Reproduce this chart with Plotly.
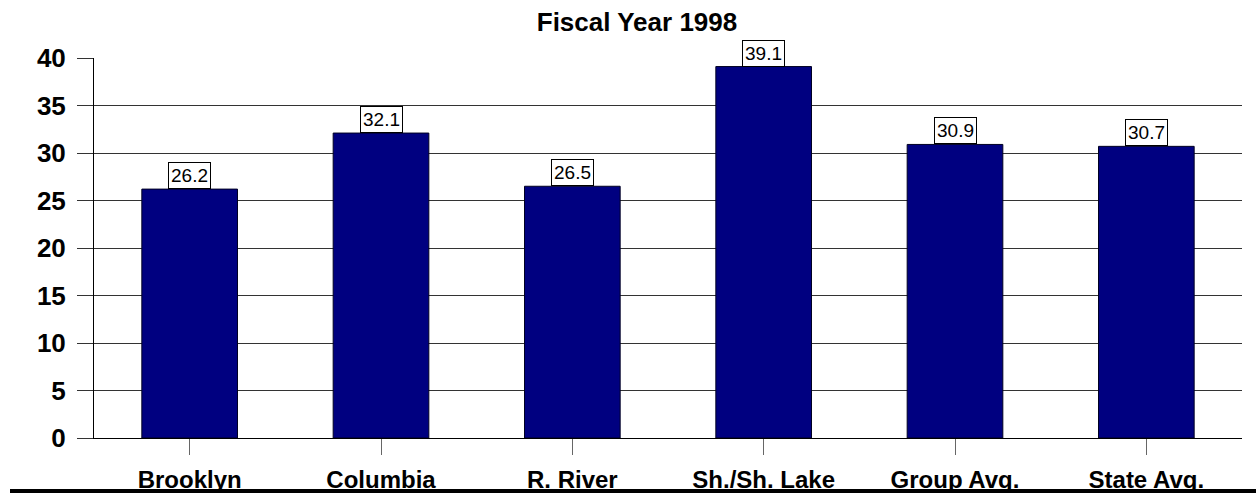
import plotly.graph_objects as go

# Fiscal year 1998 values per site
categories = ["Brooklyn", "Columbia", "R. River", "Sh./Sh. Lake", "Group Avg.", "State Avg."]
values = [26.2, 32.1, 26.5, 39.1, 30.9, 30.7]
y_ticks = [0, 5, 10, 15, 20, 25, 30, 35, 40]
title_text = "Fiscal Year 1998"

FONT = "Arial, Liberation Sans, sans-serif"
W, H = 1256, 496
M_L, M_R, M_T, M_B = 94, 14, 58, 58
plot_h = H - M_T - M_B

fig = go.Figure()
fig.add_trace(go.Bar(
    x=categories,
    y=values,
    width=0.5,
    marker=dict(color="#000080", line=dict(color="#000022", width=1)),
    hoverinfo="skip",
))

# Boxed value labels sitting on top of each bar
for c, v in zip(categories, values):
    fig.add_annotation(
        x=c, y=v, xref="x", yref="y",
        text=f"{v:.1f}", showarrow=False,
        yanchor="bottom", xanchor="center",
        font=dict(family=FONT, size=19, color="black"),
        bgcolor="white", bordercolor="black", borderwidth=1, borderpad=2,
    )

# Heavy rule across the bottom of the chart
rule_px = 491
fig.add_shape(
    type="line", xref="paper", yref="paper",
    x0=(10 - M_L) / (W - M_L - M_R), x1=(W - M_L) / (W - M_L - M_R),
    y0=-(rule_px - (H - M_B)) / plot_h, y1=-(rule_px - (H - M_B)) / plot_h,
    line=dict(color="black", width=4), layer="above",
)

fig.update_layout(
    width=W, height=H,
    margin=dict(l=M_L, r=M_R, t=M_T, b=M_B, autoexpand=False),
    paper_bgcolor="white", plot_bgcolor="white",
    showlegend=False,
    title=dict(
        text=title_text, x=637 / W, xref="container", xanchor="center",
        y=1 - 22 / H, yref="container", yanchor="middle",
        automargin=False,
        font=dict(family=FONT, size=26, color="black", weight="bold"),
    ),
    xaxis=dict(
        type="category",
        range=[-0.5, len(categories) - 0.5],
        automargin=False,
        showline=True, linecolor="black", linewidth=1,
        ticks="outside", ticklen=16, tickcolor="#666666", tickwidth=1,
        tickfont=dict(family=FONT, size=24, color="black", weight="bold"),
        ticklabelstandoff=4,
        showgrid=False,
        fixedrange=True,
    ),
    yaxis=dict(
        range=[0, 40],
        tickvals=y_ticks,
        automargin=False,
        showline=True, linecolor="black", linewidth=1,
        showgrid=True, gridcolor="#333333", gridwidth=1,
        ticks="outside", ticklen=16, tickcolor="#333333", tickwidth=1,
        tickfont=dict(family=FONT, size=26, color="black", weight="bold"),
        ticklabelstandoff=6,
        zeroline=False,
        fixedrange=True,
    ),
)

fig.write_html("out.html")
